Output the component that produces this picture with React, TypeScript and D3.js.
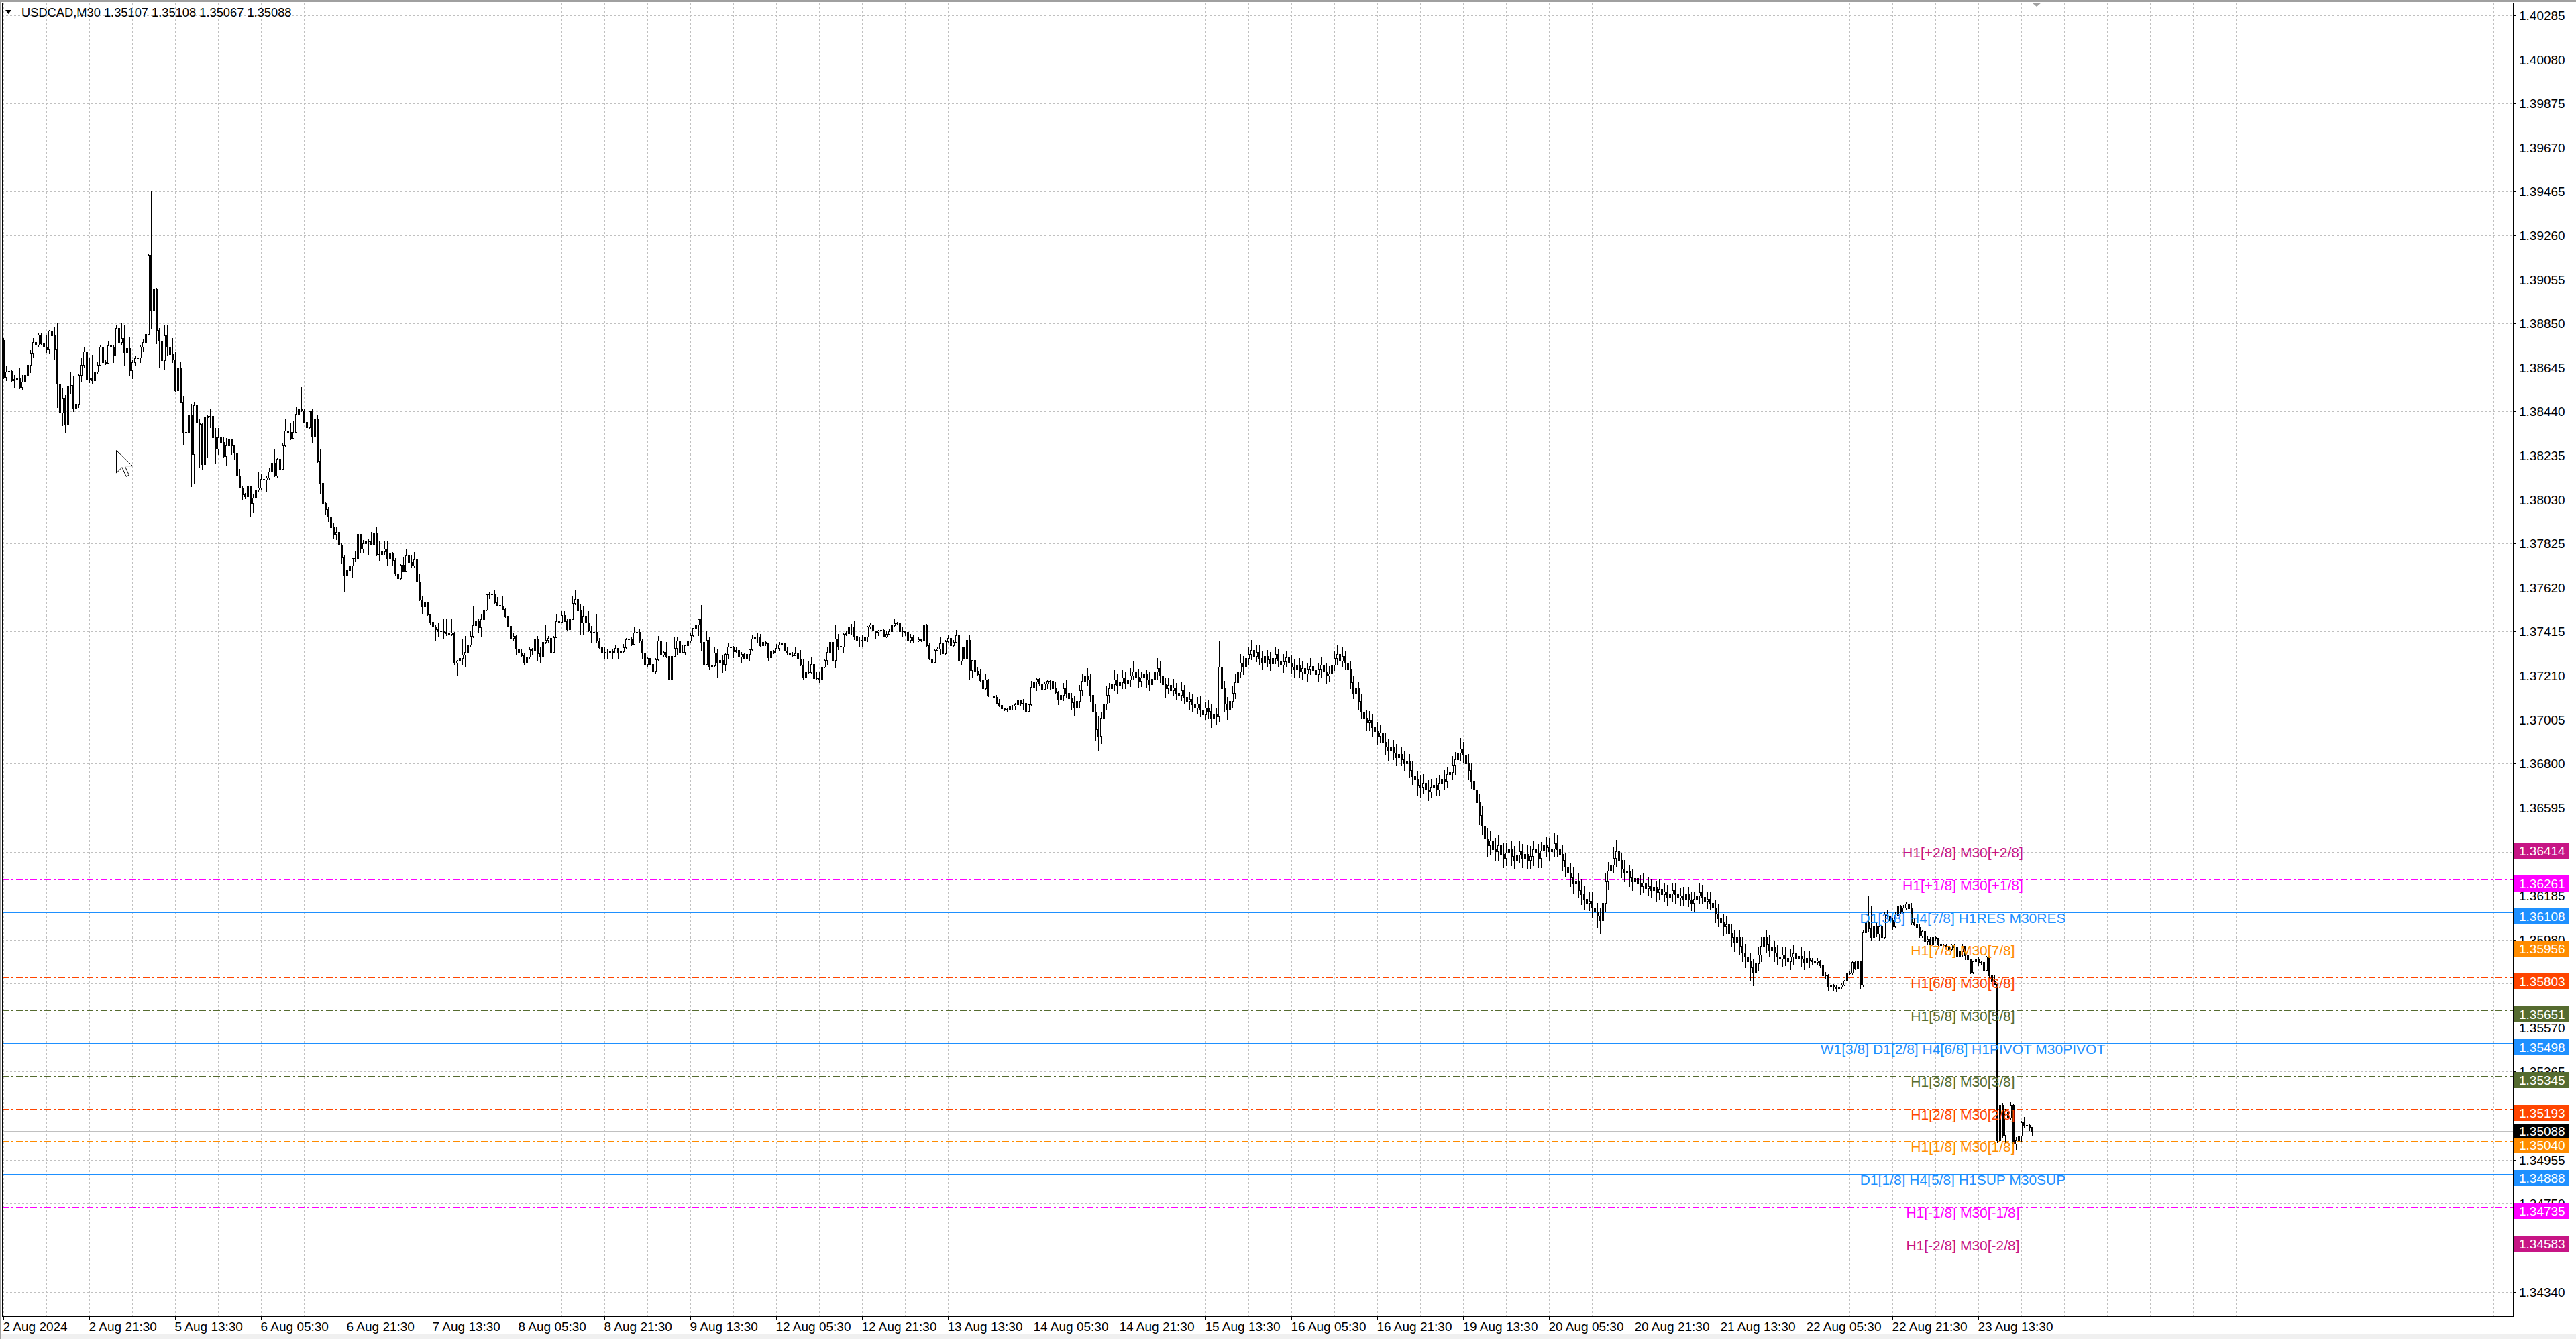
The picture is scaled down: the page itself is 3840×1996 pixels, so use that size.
import React from "react";
import * as d3 from "d3";

const WIDTH = 3840;
const HEIGHT = 1996;

const titleSymbol = "USDCAD,M30";
const titleValues = "1.35107 1.35108 1.35067 1.35088";

// prices in points above 1.34000 (1 point = 0.00001); bar 0 = 2 Aug 05:30, M30 bars
const firstOpen = 4773;
const closes = [
4601,4627,4630,4585,4591,4596,4554,4580,4611,4658,
4712,4762,4752,4799,4757,4742,4731,4816,4794,4733,
4570,4434,4502,4382,4559,4564,4455,4476,4611,4658,
4721,4591,4596,4585,4627,4658,4742,4669,4667,4747,
4742,4700,4830,4762,4781,4716,4736,4632,4669,4687,
4692,4742,4762,4802,5170,4912,5009,4820,4771,4679,
4794,4742,4708,4681,4539,4641,4486,4341,4346,4424,
4242,4471,4388,4382,4195,4414,4419,4421,4320,4268,
4320,4299,4232,4283,4310,4283,4247,4143,4086,4054,
4046,4091,4013,4039,4075,4086,4127,4122,4133,4159,
4200,4140,4221,4174,4283,4351,4346,4315,4346,4429,
4455,4445,4393,4367,4440,4325,4408,4211,4106,4013,
3985,3950,3900,3870,3880,3820,3760,3680,3700,
3722,3756,3753,3870,3800,3826,3834,3836,3824,3873,3776,
3774,3788,3802,3753,3779,3748,3686,3662,3727,3699,
3769,3738,3722,3751,3647,3564,3533,3550,3495,3460,
3439,3425,3415,3420,3412,3408,3405,3410,3269,3280,
3293,3306,3321,3353,3394,3446,3464,3436,3472,3516,
3589,3587,3589,3550,3537,3535,3519,3488,3441,3384,
3394,3335,3318,3304,3272,3297,3332,3329,3379,3314,
3297,3366,3375,3384,3321,3387,3464,3460,3493,3464,
3425,3474,3547,3566,3514,3457,3488,3457,3420,3410,
3412,3373,3342,3321,3316,3318,3324,3318,3339,3321,
3324,3342,3379,3381,3356,3410,3412,3373,3318,3262,
3290,3264,3233,3285,3373,3306,3321,3301,3196,3301,
3337,3373,3321,3321,3350,3373,3399,3431,3449,3472,
3365,3264,3377,3254,3257,3317,3271,3281,3262,3309,
3344,3341,3323,3330,3299,3309,3292,3309,3333,3383,
3393,3393,3351,3367,3359,3296,3323,3317,3338,3354,
3359,3327,3315,3306,3304,3312,3288,3260,3202,3226,
3226,3262,3197,3197,3194,3250,3283,3320,3367,3281,
3383,3348,3346,3403,3407,3438,3438,3396,3372,3372,
3377,3390,3438,3447,3421,3414,3419,3424,3393,3403,
3417,3445,3453,3453,3417,3417,3414,3375,3388,3372,
3372,3379,3375,3448,3351,3288,3273,3330,3336,3359,
3313,3369,3386,3351,3367,3398,3278,3344,3292,3375,
3236,3281,3231,3218,3189,3152,3191,3116,3116,3111,
3082,3074,3058,3055,3055,3069,3069,3076,3095,3082,
3082,3045,3076,3158,3181,3194,3173,3149,3173,3184,
3184,3152,3132,3097,
3120,3150,3130,3105,3085,3060,3090,3140,3185,3210,
3190,3120,3040,2960,2930,3010,3080,3120,3150,3170,
3190,3165,3180,3200,3175,3190,3210,3230,3205,3185,
3200,3215,3190,3170,3195,3230,3245,3210,3170,3150,
3165,3140,3155,3130,3120,3140,3110,3090,3100,3075,
3060,3080,3050,3030,3060,3045,3010,3030,3020,3250,
3150,3080,3050,3090,3130,3180,3230,3270,3250,3290,
3310,3330,3300,3320,3290,3270,3300,3285,3265,3290,
3310,3280,3260,3275,3295,3270,3250,3240,3260,3230,
3245,3220,3240,3255,3235,3215,3240,3260,3230,3210,
3220,3260,3290,3310,3280,3300,3270,3240,3180,3130,
3150,3090,3040,3010,2990,3000,2970,2950,2930,2945,
2900,2880,2860,2875,2850,2830,2845,2820,2800,2810,
2770,2740,2730,2700,2690,2710,2680,2670,2690,2700,
2680,2710,2730,2720,2750,2760,2790,2820,2850,2870,
2840,2800,2770,2720,2680,2620,2560,2510,2450,2420,
2440,2400,2390,2420,2380,2360,2385,2400,2370,2350,
2375,2390,2360,2380,2350,2370,2400,2385,2360,2395,
2420,2410,2390,2405,2430,2400,2380,2350,2320,2290,
2270,2240,2250,2210,2190,2170,2150,2160,2130,2110,
2090,2070,2150,2250,2300,2330,2360,2390,2350,2310,
2290,2300,2270,2250,2265,2240,2230,2245,2220,2230,
2210,2225,2200,2215,2190,2205,2180,2195,2210,2190,
2175,2185,2170,2190,2165,2150,2170,2185,2200,2180,
2160,2170,2150,2130,2100,2080,2060,2040,2050,2010,
1990,1970,1990,1950,1920,1900,1880,1850,1830,1870,
1910,1950,1990,1960,1930,1945,1920,1900,1890,1910,
1895,1880,1900,1915,1895,1905,1890,1875,1895,1885,
1878,1876,1881,1860,1813,1818,1761,1766,1761,1750,
1761,1771,1787,1824,1826,1876,1845,1878,1771,2012,
2064,2033,1991,2043,2007,2043,1991,2101,2090,2069,
2043,2095,2137,2111,2129,2148,2127,2060,2050,2039,
1998,2019,1972,1982,1961,1993,1987,1961,1953,1956,
1951,1935,1956,1946,1904,1925,1951,1907,1888,1828,
1878,1891,1873,1876,1838,1901,1813,1786,1774,1045,
1211,1071,1180,1150,1211,1029,1045,1065,1128,1113,
1115,1107,1088
];
const highs = [
4783,4653,4648,4632,4611,4637,4643,4611,4622,4684,
4726,4783,4814,4804,4804,4783,4794,4820,4856,4835,
4854,4606,4549,4518,4575,4622,4606,4486,4617,4689,
4742,4747,4689,4705,4637,4674,4747,4684,4681,4768,
4757,4752,4846,4866,4851,4846,4752,4788,4679,4700,
4716,4747,4778,4846,5174,5465,5012,5012,4830,4846,
4846,4846,4783,4783,4721,4648,4674,4513,4351,4455,
4476,4486,4476,4408,4388,4419,4424,4450,4476,4362,
4362,4320,4320,4315,4320,4289,4283,4247,4174,4091,
4060,4138,4091,4054,4169,4159,4148,4127,4138,4179,
4242,4263,4223,4231,4294,4408,4440,4388,4398,4460,
4518,4554,4455,4408,4445,4450,4419,4424,4268,4148,
4020,3995,3960,3920,3905,3885,3830,3770,3740,
3784,3758,3790,3870,3831,3842,3839,3847,3878,3891,3904,
3836,3800,3836,3836,3805,3784,3758,3691,3732,3764,
3797,3800,3774,3784,3753,3686,3582,3568,3555,3498,
3462,3446,3457,3477,3477,3472,3472,3472,3412,3283,
3379,3379,3394,3431,3415,3535,3514,3472,3498,3524,
3592,3597,3595,3608,3577,3566,3582,3524,3498,3472,
3410,3399,3358,3332,3316,3316,3342,3339,3399,3394,
3342,3370,3446,3394,3389,3394,3498,3493,3509,3509,
3472,3498,3582,3608,3651,3543,3535,3509,3509,3441,
3420,3495,3384,3358,3342,3332,3337,3335,3353,3327,
3335,3358,3384,3394,3389,3436,3436,3425,3379,3327,
3295,3293,3269,3290,3394,3405,3327,3368,3306,3304,
3389,3391,3379,3353,3353,3399,3410,3433,3457,3477,
3539,3419,3419,3388,3299,3346,3336,3336,3304,3315,
3362,3362,3348,3341,3333,3320,3315,3317,3336,3398,
3407,3409,3403,3383,3372,3359,3336,3330,3356,3367,
3383,3362,3341,3320,3320,3341,3325,3330,3285,3236,
3278,3299,3262,3226,3226,3252,3288,3341,3398,3372,
3445,3403,3388,3409,3421,3477,3451,3463,3403,3390,
3398,3398,3442,3453,3451,3421,3424,3428,3428,3419,
3430,3466,3474,3461,3459,3435,3421,3421,3403,3398,
3383,3390,3383,3453,3451,3362,3313,3336,3341,3390,
3362,3375,3398,3398,3377,3424,3407,3346,3346,3383,
3398,3283,3306,3252,3243,3218,3215,3194,3128,3121,
3121,3100,3082,3058,3058,3074,3074,3082,3100,3095,
3100,3105,3079,3184,3184,3197,3202,3179,3179,3187,
3189,3208,3179,3137,
3155,3175,3190,3165,3130,3115,3130,3165,3220,3245,
3245,3215,3155,3080,3020,3040,3110,3160,3175,3210,
3235,3215,3220,3235,3230,3230,3245,3275,3250,3240,
3230,3255,3235,3225,3225,3265,3290,3275,3245,3200,
3200,3190,3195,3175,3165,3180,3165,3145,3135,3125,
3110,3110,3115,3080,3085,3095,3080,3060,3060,3370,
3290,3185,3110,3125,3160,3215,3260,3310,3300,3325,
3345,3375,3365,3355,3350,3325,3330,3330,3320,3320,
3345,3335,3315,3310,3325,3325,3305,3285,3290,3290,
3280,3280,3270,3290,3280,3270,3270,3295,3290,3265,
3255,3285,3325,3355,3340,3340,3325,3300,3275,3210,
3190,3180,3125,3075,3050,3045,3030,3010,2990,2980,
2980,2945,2915,2910,2910,2890,2885,2875,2860,2855,
2845,2810,2775,2765,2745,2750,2740,2725,2730,2735,
2735,2745,2775,2770,2785,2805,2835,2855,2895,2920,
2900,2875,2845,2805,2760,2715,2660,2600,2550,2500,
2485,2475,2455,2465,2455,2430,2430,2445,2440,2415,
2425,2440,2425,2430,2420,2415,2440,2455,2425,2435,
2470,2460,2455,2450,2475,2470,2450,2420,2385,2360,
2335,2315,2290,2290,2260,2230,2210,2205,2205,2170,
2150,2125,2190,2290,2340,2375,2410,2445,2430,2385,
2350,2345,2330,2310,2310,2295,2280,2290,2275,2270,
2260,2265,2255,2260,2245,2245,2235,2240,2245,2245,
2225,2220,2225,2225,2225,2205,2205,2225,2240,2235,
2215,2205,2205,2190,2165,2145,2115,2100,2090,2080,
2050,2025,2035,2025,1990,1960,1940,1915,1890,1905,
1945,1990,2030,2025,2000,1985,1975,1955,1945,1945,
1945,1935,1935,1955,1945,1945,1945,1925,1925,1925,
1895,1890,1895,1885,1860,1830,1820,1775,1772,1770,
1770,1778,1790,1830,1836,1880,1880,1885,1880,2025,
2179,2184,2137,2070,2064,2060,2040,2110,2115,2095,
2080,2110,2150,2140,2140,2158,2155,2150,2081,2065,
2050,2022,2024,1998,1993,2013,1998,1987,1967,1961,
1959,1956,1961,1959,1946,1930,1961,1951,1911,1886,
1883,1899,1899,1883,1880,1904,1905,1821,1815,1774,
1253,1220,1190,1205,1227,1215,1060,1075,1135,1154,
1154,1120,1108
];
const lows = [
4596,4585,4601,4580,4554,4559,4549,4544,4523,4601,
4622,4690,4731,4742,4752,4692,4715,4710,4742,4684,
4460,4367,4377,4341,4351,4523,4440,4445,4460,4580,
4648,4565,4575,4570,4580,4617,4653,4637,4660,4664,
4679,4669,4731,4752,4752,4653,4601,4611,4596,4653,
4658,4669,4721,4700,4799,4825,4908,4757,4648,4658,
4637,4700,4700,4669,4533,4513,4481,4289,4190,4195,
4091,4106,4377,4179,4174,4169,4226,4367,4315,4200,
4242,4289,4226,4190,4268,4242,4216,4138,4084,4028,
4034,4013,3950,3971,4034,4070,4080,4075,4070,4127,
4148,4138,4136,4171,4169,4278,4325,4310,4315,4341,
4419,4440,4388,4336,4362,4294,4299,4205,4060,3992,
3960,3930,3885,3850,3845,3800,3735,3600,3660,
3680,3670,3743,3741,3784,3784,3821,3774,3821,3824,3769,
3745,3758,3774,3727,3727,3727,3680,3657,3660,3696,
3696,3735,3712,3712,3633,3561,3501,3519,3493,3451,
3436,3373,3394,3384,3381,3397,3353,3399,3264,3210,
3248,3264,3254,3269,3347,3389,3420,3410,3394,3462,
3514,3571,3581,3547,3535,3533,3516,3483,3431,3381,
3377,3308,3316,3297,3262,3264,3290,3311,3324,3280,
3274,3293,3360,3368,3301,3316,3387,3457,3457,3462,
3420,3368,3472,3540,3509,3401,3405,3431,3415,3363,
3399,3363,3337,3318,3290,3287,3303,3287,3316,3290,
3293,3321,3337,3347,3350,3353,3399,3368,3293,3256,
3254,3259,3231,3222,3280,3304,3301,3295,3179,3193,
3308,3308,3316,3318,3311,3353,3366,3394,3425,3399,
3325,3264,3264,3241,3212,3252,3205,3267,3226,3236,
3292,3299,3294,3320,3288,3273,3288,3299,3278,3330,
3377,3362,3348,3341,3351,3283,3278,3313,3317,3330,
3348,3325,3309,3294,3299,3306,3285,3257,3194,3181,
3223,3223,3194,3191,3179,3184,3247,3264,3315,3278,
3247,3333,3315,3315,3398,3403,3403,3379,3354,3348,
3344,3348,3369,3432,3419,3383,3398,3393,3390,3388,
3400,3411,3438,3451,3414,3390,3398,3356,3362,3367,
3356,3369,3369,3372,3344,3285,3262,3271,3325,3309,
3288,3309,3367,3327,3344,3362,3241,3264,3288,3288,
3194,3202,3226,3212,3184,3147,3147,3114,3079,3108,
3079,3066,3055,3048,3045,3045,3053,3055,3074,3074,
3051,3043,3041,3074,3152,3142,3168,3147,3145,3152,
3147,3149,3126,3076,
3065,3095,3110,3070,3050,3025,3040,3060,3115,3155,
3165,3090,3000,2910,2860,2895,2980,3055,3085,3130,
3140,3125,3145,3150,3150,3135,3160,3190,3170,3155,
3160,3170,3155,3140,3140,3175,3195,3180,3145,3110,
3125,3100,3120,3100,3080,3095,3080,3060,3055,3045,
3025,3035,3020,2990,3005,3010,2970,2985,2985,2995,
3115,3040,3005,3025,3060,3105,3150,3205,3215,3225,
3260,3285,3265,3275,3260,3240,3235,3250,3235,3235,
3265,3250,3230,3225,3250,3240,3220,3205,3205,3205,
3195,3190,3185,3215,3205,3185,3185,3205,3205,3175,
3185,3190,3235,3260,3245,3255,3240,3215,3150,3105,
3095,3055,3010,2970,2955,2955,2925,2915,2890,2900,
2865,2845,2815,2825,2820,2790,2790,2790,2765,2765,
2735,2705,2690,2655,2645,2660,2635,2630,2640,2650,
2650,2650,2680,2680,2690,2720,2725,2750,2790,2815,
2805,2770,2725,2685,2635,2570,2515,2470,2400,2370,
2380,2355,2350,2350,2335,2315,2325,2340,2325,2310,
2310,2340,2315,2320,2310,2310,2325,2350,2315,2315,
2350,2365,2350,2345,2365,2365,2335,2305,2275,2250,
2230,2195,2195,2175,2145,2120,2105,2115,2085,2060,
2035,2010,2020,2110,2215,2260,2295,2320,2315,2270,
2250,2260,2230,2210,2220,2200,2190,2200,2180,2185,
2175,2180,2160,2170,2155,2160,2140,2150,2160,2150,
2140,2140,2140,2130,2135,2115,2110,2140,2150,2150,
2130,2125,2120,2095,2060,2040,2015,2000,2010,1970,
1950,1925,1935,1910,1880,1850,1835,1790,1765,1785,
1835,1880,1915,1920,1900,1895,1880,1865,1855,1855,
1860,1845,1840,1865,1865,1855,1855,1840,1840,1850,
1865,1860,1868,1850,1805,1800,1745,1745,1745,1740,
1709,1750,1765,1780,1815,1820,1840,1840,1750,1760,
1950,2020,1980,1985,1995,1980,1985,1985,2080,2060,
2030,2035,2085,2100,2105,2120,2115,2050,2045,2034,
1993,1993,1963,1956,1951,1951,1977,1951,1946,1949,
1940,1925,1930,1935,1878,1899,1904,1888,1883,1824,
1824,1862,1859,1865,1831,1834,1805,1782,1769,1035,
1040,1060,1034,1140,1140,993,1003,988,1040,1108,
1100,1090,1067
];

const timeLabels = [
  "2 Aug 2024", "2 Aug 21:30", "5 Aug 13:30", "6 Aug 05:30", "6 Aug 21:30",
  "7 Aug 13:30", "8 Aug 05:30", "8 Aug 21:30", "9 Aug 13:30", "12 Aug 05:30",
  "12 Aug 21:30", "13 Aug 13:30", "14 Aug 05:30", "14 Aug 21:30", "15 Aug 13:30",
  "16 Aug 05:30", "16 Aug 21:30", "19 Aug 13:30", "20 Aug 05:30", "20 Aug 21:30",
  "21 Aug 13:30", "22 Aug 05:30", "22 Aug 21:30", "23 Aug 13:30"
];

const priceTicks = [
  1.40285, 1.4008, 1.39875, 1.3967, 1.39465, 1.3926, 1.39055, 1.3885, 1.38645, 1.3844,
  1.38235, 1.3803, 1.37825, 1.3762, 1.37415, 1.3721, 1.37005, 1.368, 1.36595, 1.3639,
  1.36185, 1.3598, 1.35775, 1.3557, 1.35365, 1.3516, 1.34955, 1.3475, 1.34545, 1.3434
];

const levelPrices = [1.36414, 1.36261, 1.36108, 1.35956, 1.35803, 1.35651, 1.35498, 1.35345, 1.35193, 1.3504, 1.34888, 1.34735, 1.34583];
const levelNames = [
  "H1[+2/8] M30[+2/8]", "H1[+1/8] M30[+1/8]", "D1[3/8] H4[7/8] H1RES M30RES",
  "H1[7/8] M30[7/8]", "H1[6/8] M30[6/8]", "H1[5/8] M30[5/8]",
  "W1[3/8] D1[2/8] H4[6/8] H1PIVOT M30PIVOT", "H1[3/8] M30[3/8]", "H1[2/8] M30[2/8]",
  "H1[1/8] M30[1/8]", "D1[1/8] H4[5/8] H1SUP M30SUP", "H1[-1/8] M30[-1/8]", "H1[-2/8] M30[-2/8]"
];
const levelColors = ["#C71585", "#FF00FF", "#1E90FF", "#FF8C00", "#FF4500", "#556B2F", "#1E90FF", "#556B2F", "#FF4500", "#FF8C00", "#1E90FF", "#FF00FF", "#C71585"];
const levelSolid = [false, false, true, false, false, false, true, false, false, false, true, false, false];
const bidPrice = 1.35088;

const FONT = "'Liberation Sans', Arial, sans-serif";
const PL = 3, PT = 4, PR = 3746, PB = 1962;

export default function App() {
  const y = d3.scaleLinear().domain([1.3434, 1.40285]).range([1925.5, 23.1]);
  const x = d3.scaleLinear().domain([0, 1]).range([5.5, 9.5]);
  const toPrice = (p: number) => 1.34 + p / 100000;
  const crisp = (v: number) => Math.round(v) + 0.5;

  const candles = d3.range(closes.length).map((i) => {
    const o = i === 0 ? firstOpen : closes[i - 1];
    const c = closes[i];
    const h = Math.max(highs[i], o, c);
    const l = Math.min(lows[i], o, c);
    return { i, o: toPrice(o), c: toPrice(c), h: toPrice(h), l: toPrice(l) };
  });

  const vGrid = d3.range(0, 59).map((k) => x(16 * k));
  const fmt = d3.format(".5f");

  return (
    <svg width={WIDTH} height={HEIGHT} style={{ position: "absolute", left: 0, top: 0, display: "block", background: "#fff" }}>
      <rect x={0} y={0} width={WIDTH} height={HEIGHT} fill="#ffffff" />
      <rect x={0} y={1989} width={WIDTH} height={7} fill="#f0f0f0" />
      <rect x={0} y={0} width={WIDTH} height={3} fill="#a0a0a0" />
      <rect x={0} y={0} width={2} height={HEIGHT} fill="#a0a0a0" />

      {/* grid */}
      <g shapeRendering="crispEdges" stroke="#c0c0c0" strokeWidth={1} strokeDasharray="3,3">
        {priceTicks.map((p) => (
          <line key={"h" + p} x1={PL} x2={PR} y1={crisp(y(p))} y2={crisp(y(p))} />
        ))}
        {vGrid.map((gx, k) => (
          <line key={"v" + k} x1={gx} x2={gx} y1={PT} y2={PB} />
        ))}
      </g>

      {/* levels */}
      <g shapeRendering="crispEdges">
        {levelPrices.map((p, k) => (
          <line key={"l" + k} x1={PL} x2={PR} y1={crisp(y(p))} y2={crisp(y(p))}
            stroke={levelColors[k]} strokeWidth={1} strokeDasharray={levelSolid[k] ? undefined : "10,4,3,4"} />
        ))}
        <line x1={PL} x2={PR} y1={crisp(y(bidPrice))} y2={crisp(y(bidPrice))} stroke="#c0c0c0" strokeWidth={1} />
      </g>

      {/* candles */}
      <g shapeRendering="crispEdges">
        {candles.map((d) => {
          const cx = x(d.i);
          const yh = Math.round(y(d.h));
          const yl = Math.round(y(d.l));
          const yo = Math.round(y(d.o));
          const yc = Math.round(y(d.c));
          const top = Math.min(yo, yc);
          const bot = Math.max(yo, yc);
          let body;
          if (d.c > d.o && bot > top) {
            body = <rect x={cx - 1} y={top + 0.5} width={2} height={bot - top} fill="#fff" stroke="#000" strokeWidth={1} />;
          } else if (d.c < d.o && bot > top) {
            body = <rect x={cx - 1.5} y={top} width={3} height={bot - top + 1} fill="#000" />;
          } else {
            body = <line x1={cx - 1.5} x2={cx + 1.5} y1={top + 0.5} y2={top + 0.5} stroke="#000" strokeWidth={1} />;
          }
          return (
            <g key={d.i}>
              <line x1={cx} x2={cx} y1={yh} y2={yl + 1} stroke="#000" strokeWidth={1} />
              {body}
            </g>
          );
        })}
      </g>

      {/* level labels */}
      <g fontFamily={FONT} fontSize={21} textAnchor="middle">
        {levelPrices.map((p, k) => (
          <text key={"t" + k} x={2926} y={Math.round(y(p)) + 16} fill={levelColors[k]}>{levelNames[k]}</text>
        ))}
      </g>

      {/* frame */}
      <rect x={PL + 0.5} y={PT + 0.5} width={PR - PL} height={PB - PT} fill="none" stroke="#000" strokeWidth={1} shapeRendering="crispEdges" />

      {/* price axis */}
      <g fontFamily={FONT} fontSize={19} fill="#000">
        {priceTicks.map((p) => (
          <g key={"a" + p}>
            <line x1={PR} x2={PR + 5} y1={crisp(y(p))} y2={crisp(y(p))} stroke="#000" shapeRendering="crispEdges" />
            <text x={3755} y={Math.round(y(p)) + 7}>{fmt(p)}</text>
          </g>
        ))}
      </g>
      <g fontFamily={FONT} fontSize={19}>
        {levelPrices.map((p, k) => {
          const ly = Math.round(y(p));
          return (
            <g key={"b" + k}>
              <rect x={3748} y={ly - 6} width={81} height={24} fill={levelColors[k]} />
              <text x={3755} y={ly + 13} fill="#fff">{fmt(p)}</text>
            </g>
          );
        })}
        <rect x={3748} y={Math.round(y(bidPrice)) - 10} width={81} height={20} fill="#000" />
        <text x={3755} y={Math.round(y(bidPrice)) + 7} fill="#fff">{fmt(bidPrice)}</text>
      </g>

      {/* time axis */}
      <g fontFamily={FONT} fontSize={19} fill="#000">
        {timeLabels.map((t, k) => (
          <g key={"x" + k}>
            <line x1={x(32 * k)} x2={x(32 * k)} y1={PB} y2={PB + 5} stroke="#000" shapeRendering="crispEdges" />
            <text x={x(32 * k) - 1} y={1984}>{t}</text>
          </g>
        ))}
      </g>

      {/* title */}
      <path d="M8,15 L17,15 L12.5,21 Z" fill="#000" />
      <text x={32} y={25} fontFamily={FONT} fontSize={18.3} fill="#000">{titleSymbol + "  " + titleValues}</text>

      {/* chart shift marker */}
      <path d="M3029,4 L3043,4 L3036,10 Z" fill="#a0a0a0" />

      {/* mouse cursor */}
      <path d="M173.5,671.5 l0,33.6 l8.4,-8.4 l6.3,13.6 l4.2,-2.1 l-6.3,-13.6 l11.6,0 Z" fill="#fff" stroke="#000" strokeWidth={1} />
    </svg>
  );
}
